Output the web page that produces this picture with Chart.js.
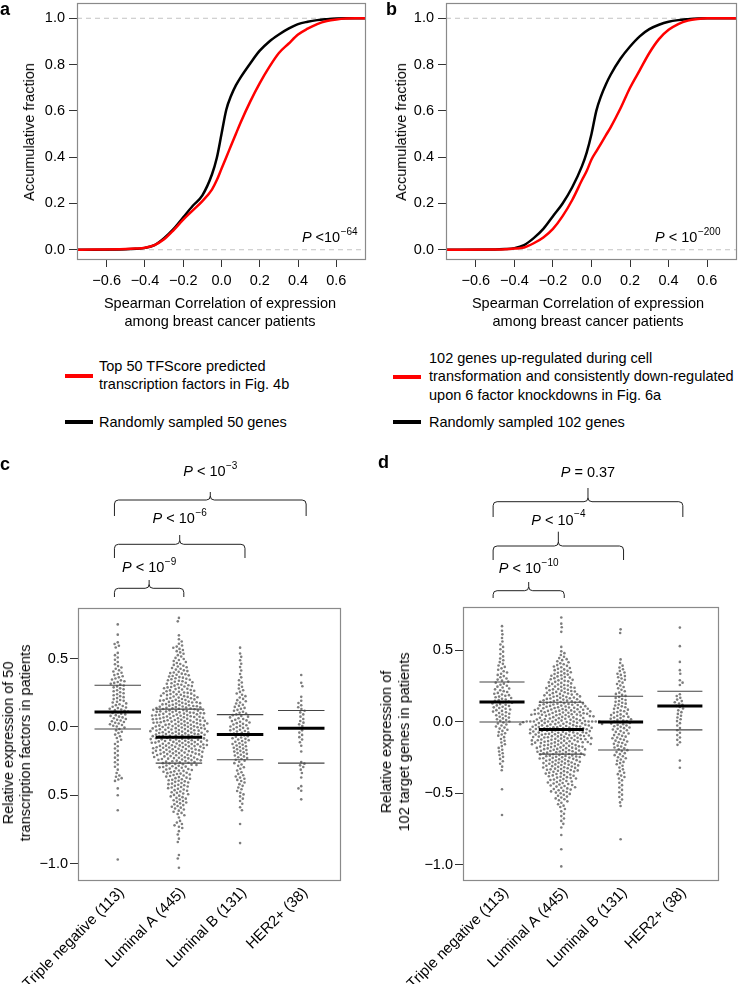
<!DOCTYPE html>
<html>
<head>
<meta charset="utf-8">
<script src="https://cdn.jsdelivr.net/npm/chart.js@4.4.1/dist/chart.umd.min.js"></script>
<style>
  body { margin: 0; background: #fff; }
  #page { position: relative; width: 738px; height: 984px; overflow: hidden; font-family: "Liberation Sans", Arial, sans-serif; color: #000; }
  canvas { position: absolute; }
  .t { position: absolute; font-size: 14.5px; white-space: nowrap; }
  .letter { position: absolute; font-weight: bold; font-size: 18px; line-height: 18px; }
  .rot { position: absolute; font-size: 14.5px; white-space: nowrap; text-align: center; transform: translate(-50%, -50%) rotate(-90deg); }
  .ctr { position: absolute; font-size: 14.5px; white-space: nowrap; text-align: center; transform: translateX(-50%); line-height: 18.3px; }
  .key { position: absolute; height: 4px; width: 28px; }
</style>
</head>
<body>
<div id="page">
  <canvas id="chartA" width="369" height="340" style="left:0;top:0"></canvas>
  <canvas id="chartB" width="369" height="340" style="left:369px;top:0"></canvas>
  <canvas id="chartC" width="369" height="534" style="left:0;top:450px"></canvas>
  <canvas id="chartD" width="369" height="534" style="left:369px;top:450px"></canvas>

  <div class="letter" style="left:0;top:0">a</div>
  <div class="letter" style="left:386px;top:0">b</div>
  <div class="letter" style="left:0;top:455px">c</div>
  <div class="letter" style="left:378px;top:453px">d</div>

  <div class="rot" style="left:29px;top:132px">Accumulative fraction</div>
  <div class="rot" style="left:401px;top:132px">Accumulative fraction</div>
  <div class="ctr" style="left:220px;top:294px">Spearman Correlation of expression<br>among breast cancer patients</div>
  <div class="ctr" style="left:588px;top:294px">Spearman Correlation of expression<br>among breast cancer patients</div>

  <div class="key" style="left:65px;top:374px;background:#ff0000"></div>
  <div class="t" style="left:99px;top:358px;line-height:17.6px">Top 50 TFScore predicted<br>transcription factors in Fig. 4b</div>
  <div class="key" style="left:65px;top:420px;background:#000"></div>
  <div class="t" style="left:99px;top:413px;line-height:18px">Randomly sampled 50 genes</div>

  <div class="key" style="left:393px;top:375px;background:#ff0000"></div>
  <div class="t" style="left:429px;top:349px;line-height:18.3px">102 genes up-regulated during cell<br>transformation and consistently down-regulated<br>upon 6 factor knockdowns in Fig. 6a</div>
  <div class="key" style="left:393px;top:420px;background:#000"></div>
  <div class="t" style="left:429px;top:413px;line-height:18px">Randomly sampled 102 genes</div>

  <div class="rot" style="left:17px;top:743px;line-height:17px">Relative expression of 50<br>transcription factors in patients</div>
  <div class="rot" style="left:395px;top:742px;line-height:18px">Relative expression of<br>102 target genes in patients</div>
</div>

<script>
// ---- panels a / b: cumulative fraction curves ----
const cdfX = [-0.75, -0.5, -0.45, -0.4, -0.35, -0.3, -0.25, -0.2, -0.15, -0.1, -0.05, -0.025, 0, 0.025, 0.05, 0.075,
              0.1, 0.15, 0.2, 0.25, 0.3, 0.35, 0.4, 0.45, 0.5, 0.55, 0.6, 0.65, 0.7, 0.75];
const aRed   = [0, .003, .005, .009, .02, .045, .085, .13, .17, .21, .26, .30, .35, .40, .45, .50,
                .55, .64, .72, .79, .85, .89, .93, .955, .975, .988, .995, .999, 1, 1];
const aBlack = [0, .002, .004, .008, .02, .05, .09, .14, .19, .235, .325, .395, .50, .605, .665, .71,
                .745, .805, .86, .90, .93, .955, .975, .985, .992, .996, .999, 1, 1, 1];
const bRed   = [0, .001, .002, .005, .01, .028, .053, .09, .145, .215, .30, .34, .39, .425, .46, .495,
                .53, .61, .70, .775, .85, .91, .95, .975, .99, .997, 1, 1, 1, 1];
const bBlack = [0, .001, .003, .007, .02, .05, .09, .145, .2, .27, .36, .42, .50, .60, .665, .715,
                .757, .825, .878, .922, .953, .972, .985, .992, .996, .999, 1, 1, 1, 1];
const cdfXTicks = [-0.6, -0.4, -0.2, 0, 0.2, 0.4, 0.6];
const cdfXLabels = ['\u22120.6', '\u22120.4', '\u22120.2', '0.0', '0.2', '0.4', '0.6'];
const cdfYTicks = [0, 0.2, 0.4, 0.6, 0.8, 1.0];
const cdfYLabels = ['0.0', '0.2', '0.4', '0.6', '0.8', '1.0'];
const aPText = ['P', ' <10', '\u221264'];
const bPText = ['P', ' < 10', '\u2212200'];

// ---- panels c / d: per-patient values, binned as [value, count, binWidth?] ----
const groups = ['Triple negative (113)', 'Luminal A (445)', 'Luminal B (131)', 'HER2+ (38)'];

const cTN = [[0.75,1],[0.675,1],[0.60,4],[0.525,3],[0.475,3],[0.425,5],[0.375,6],[0.325,8],[0.275,7],[0.225,7],
  [0.175,8],[0.125,10],[0.075,9],[0.025,9],[-0.025,5],[-0.075,4],[-0.125,3],[-0.175,3],[-0.225,3],[-0.275,3],
  [-0.325,2],[-0.375,5],[-0.45,1],[-0.50,1],[-0.61,1],[-0.97,1]];
const cLumA = [[0.785,2],[0.67,1],[0.625,3],[0.575,6],[0.525,5],[0.475,7],[0.425,9],[0.375,12],[0.325,14],[0.275,16],
  [0.225,19],[0.175,22],[0.125,27],[0.075,28],[0.025,29],[-0.025,30],[-0.075,30],[-0.125,29],[-0.175,27],[-0.225,24],
  [-0.275,18],[-0.325,15],[-0.375,13],[-0.425,12],[-0.475,10],[-0.525,9],[-0.575,8],[-0.625,6],[-0.675,2],[-0.72,5],
  [-0.775,2],[-0.83,2],[-0.95,2],[-1.03,1]];
const cLumB = [[0.58,1],[0.525,2],[0.475,2],[0.425,2],[0.375,2],[0.325,3],[0.275,4],[0.225,5],[0.175,6],[0.125,7],
  [0.075,9],[0.025,10],[-0.025,11],[-0.075,10],[-0.125,9],[-0.175,9],[-0.225,8],[-0.275,5],[-0.325,4],[-0.375,6],
  [-0.425,4],[-0.475,4],[-0.525,3],[-0.575,2],[-0.61,1],[-0.71,1],[-0.85,1]];
const cHER2 = [[0.38,1],[0.31,2],[0.22,1],[0.175,3],[0.125,4],[0.075,3],[0.025,4],[-0.025,3],[-0.075,3],[-0.125,2],
  [-0.18,1],[-0.275,4],[-0.325,2],[-0.37,1],[-0.45,3],[-0.53,1]];
const cMedian = [0.11, -0.075, -0.055, -0.01];
const cUpper  = [0.305, 0.13, 0.09, 0.12];
const cLower  = [-0.015, -0.265, -0.24, -0.265];
const cYTicks = [0.5, 0, -0.5, -1.0];
const cYLabels = ['0.5', '0.0', '0.5', '\u22121.0'];
const cPairs = [[1, 2], [1, 3], [1, 4]];
const cPTexts = [['P', ' < 10', '\u22129'], ['P', ' < 10', '\u22126'], ['P', ' < 10', '\u22123']];

const dTN = [[0.67,1],[0.625,2],[0.575,2],[0.525,3],[0.475,3],[0.425,4],[0.375,5],[0.325,6],[0.275,7],[0.225,8],
  [0.175,10],[0.125,11],[0.075,10],[0.025,9],[-0.025,7],[-0.075,6],[-0.125,4],[-0.175,4],[-0.225,4],[-0.275,3],
  [-0.325,2],[-0.47,1],[-0.65,1]];
const dLumA = [[0.73,1],[0.675,2],[0.63,1],[0.525,1],[0.475,4],[0.425,7],[0.375,10],[0.325,12],[0.275,14],[0.225,17],
  [0.175,20],[0.125,26],[0.075,30],[0.03,27],[0.003,10,0],[-0.025,35],[-0.075,34],[-0.125,32],[-0.175,28],[-0.225,26],
  [-0.275,22],[-0.325,20],[-0.375,16],[-0.425,14],[-0.475,12],[-0.525,8],[-0.575,5],[-0.625,3],[-0.675,3],[-0.725,2],
  [-0.79,1],[-0.89,1],[-1.01,1]];
const dLumB = [[0.635,2],[0.425,2],[0.375,4],[0.325,6],[0.275,5],[0.225,5],[0.175,7],[0.125,8],[0.075,9],[0.025,12],
  [-0.025,11],[-0.075,9],[-0.125,9],[-0.175,8],[-0.225,7],[-0.275,6],[-0.325,4],[-0.375,5],[-0.425,3],[-0.475,3],
  [-0.525,3],[-0.575,2],[-0.82,1]];
const dHER2 = [[0.66,1],[0.53,1],[0.42,1],[0.35,2],[0.275,3],[0.175,4],[0.125,6],[0.075,4],[0.025,4],[-0.025,3],
  [-0.075,3],[-0.125,3],[-0.16,1],[-0.27,1],[-0.32,1]];
const dMedian = [0.14, -0.053, 0.0, 0.112];
const dUpper  = [0.28, 0.138, 0.18, 0.215];
const dLower  = [0.0, -0.225, -0.196, -0.055];
const dYTicks = [0.5, 0, -0.5, -1.0];
const dYLabels = ['0.5', '0.0', '\u22120.5', '\u22121.0'];
const dPairs = [[1, 2], [1, 3], [1, 4]];
const dPTexts = [['P', ' < 10', '\u221210'], ['P', ' < 10', '\u22124'], ['P', ' = 0.37', '']];

// ---- shared style ----
const FONT = '"Liberation Sans", Arial, sans-serif';
Chart.defaults.font.family = FONT;
Chart.defaults.font.size = 14.5;
Chart.defaults.color = '#000';
Chart.defaults.animation = false;

const framePlugin = {
  id: 'frame',
  afterDatasetsDraw(chart) {
    const { ctx, chartArea: a } = chart;
    ctx.save();
    ctx.strokeStyle = '#8a8a8a';
    ctx.lineWidth = 1.2;
    ctx.strokeRect(Math.round(a.left) + 0.5, Math.round(a.top) + 0.5,
                   Math.round(a.right - a.left) - 1, Math.round(a.bottom - a.top));
    ctx.restore();
  }
};

function drawP(ctx, x, y, parts, center) {
  const fi = 'italic 14.5px ' + FONT, fn = '14.5px ' + FONT, fs = '10px ' + FONT;
  ctx.font = fi; const w1 = ctx.measureText(parts[0]).width;
  ctx.font = fn; const w2 = ctx.measureText(parts[1]).width;
  ctx.font = fs; const w3 = parts[2] ? ctx.measureText(parts[2]).width + 0.5 : 0;
  const x0 = center ? x - (w1 + w2 + w3) / 2 : x;
  ctx.fillStyle = '#000';
  ctx.textAlign = 'left';
  ctx.textBaseline = 'middle';
  ctx.font = fi; ctx.fillText(parts[0], x0, y);
  ctx.font = fn; ctx.fillText(parts[1], x0 + w1, y);
  if (parts[2]) { ctx.font = fs; ctx.fillText(parts[2], x0 + w1 + w2 + 0.5, y - 6); }
}

function fixedTicks(values) {
  return scale => { scale.ticks = values.map(v => ({ value: v })); };
}

// pin axis sizes so the plot boxes land where the figure has them
function fitY(w) {
  return s => { s.width = w; s.paddingTop = 0; s.paddingBottom = 0; };
}
function fitX(h) {
  return s => { s.height = h; s.paddingLeft = 0; s.paddingRight = 0; };
}

// ---- cumulative charts ----
function makeCdf(id, red, black, pText, pX, padRight) {
  const xMin = -0.755, xMax = 0.755;
  const toPts = arr => cdfX.map((x, i) => ({ x: x, y: arr[i] }));
  new Chart(document.getElementById(id), {
    type: 'line',
    data: {
      datasets: [
        { data: toPts(red), borderColor: '#ff0000', borderWidth: 2.5, pointRadius: 0, cubicInterpolationMode: 'monotone', order: 0 },
        { data: toPts(black), borderColor: '#000', borderWidth: 2.5, pointRadius: 0, cubicInterpolationMode: 'monotone', order: 1 },
        { data: [{ x: xMin, y: 0 }, { x: xMax, y: 0 }], borderColor: '#c4c4c4', borderWidth: 1, borderDash: [5, 4], pointRadius: 0, order: 2 },
        { data: [{ x: xMin, y: 1 }, { x: xMax, y: 1 }], borderColor: '#c4c4c4', borderWidth: 1, borderDash: [5, 4], pointRadius: 0, order: 2 }
      ]
    },
    options: {
      responsive: false,
      layout: { padding: { top: 3, right: padRight, left: 0, bottom: 0 } },
      plugins: { legend: { display: false }, tooltip: { enabled: false } },
      scales: {
        x: {
          type: 'linear', min: xMin, max: xMax,
          afterBuildTicks: fixedTicks(cdfXTicks),
          afterFit: fitX(81),
          ticks: { callback: (v, i) => cdfXLabels[i], padding: 5, maxRotation: 0 },
          grid: { drawOnChartArea: false, tickLength: 8, tickColor: '#333' },
          border: { display: false }
        },
        y: {
          min: -0.04, max: 1.066,
          afterBuildTicks: fixedTicks(cdfYTicks),
          afterFit: fitY(77),
          ticks: { callback: (v, i) => cdfYLabels[i], padding: 4 },
          grid: { drawOnChartArea: false, tickLength: 8, tickColor: '#333' },
          border: { display: false }
        }
      }
    },
    plugins: [framePlugin, {
      id: 'pval',
      afterDraw(chart) {
        const { ctx, scales } = chart;
        ctx.save();
        drawP(ctx, scales.x.getPixelForValue(pX), scales.y.getPixelForValue(0.05), pText, false);
        ctx.restore();
      }
    }]
  });
}

makeCdf('chartA', aRed, aBlack, aPText, 0.42, 3);
makeCdf('chartB', bRed, bBlack, bPText, 0.33, 1);

// ---- beeswarm charts ----
function expand(bins) {
  const out = [];
  bins.forEach(([c, n, w]) => {
    const width = (w === undefined) ? 0.05 : w;
    for (let i = 0; i < n; i++) out.push(n === 1 ? c : c - width / 2 + width * (i + 0.5) / n);
  });
  return out;
}

// greedy swarm placement in pixel space
function swarm(ys, d) {
  const order = ys.map((v, i) => i).sort((a, b) => ys[a] - ys[b]);
  const placed = [];
  const xs = new Array(ys.length).fill(0);
  order.forEach((i, k) => {
    const y = ys[i];
    const near = placed.filter(p => Math.abs(p.y - y) < d);
    const cands = [0];
    near.forEach(p => {
      const dx = Math.sqrt(d * d - (p.y - y) * (p.y - y));
      cands.push(p.x + dx, p.x - dx);
    });
    cands.sort((a, b) => (Math.abs(a) - Math.abs(b)) || (k % 2 ? a - b : b - a));
    let best = 0;
    for (const c of cands) {
      if (near.every(p => (p.x - c) * (p.x - c) + (p.y - y) * (p.y - y) >= d * d - 1e-6)) { best = c; break; }
    }
    placed.push({ x: best, y: y });
    xs[i] = best;
  });
  return xs;
}

function segs(values, half) {
  const out = [];
  values.forEach((v, i) => {
    out.push({ x: i + 1 - half, y: v }, { x: i + 1 + half, y: v }, { x: i + 1 + half, y: null });
  });
  return out;
}

function makeSwarm(id, binSets, med, upper, lower, yTicks, yLabels, yMin, yMax, xMin, xMax, geo, pairs, pTexts) {
  const values = binSets.map(expand);
  const pts = [];
  values.forEach((vals, gi) => vals.forEach(v => pts.push({ x: gi + 1, y: v })));
  const half = 0.38;

  const chart = new Chart(document.getElementById(id), {
    type: 'scatter',
    data: {
      datasets: [
        { type: 'line', data: segs(med, half), borderColor: '#000', borderWidth: 3, pointRadius: 0, spanGaps: false, order: 0 },
        { type: 'line', data: segs(upper, half).concat(segs(lower, half)), borderColor: '#444', borderWidth: 1.1, pointRadius: 0, spanGaps: false, order: 1 },
        { data: pts, backgroundColor: '#7d7d7d', borderWidth: 0, pointRadius: 1.3, order: 2 }
      ]
    },
    options: {
      responsive: false,
      layout: { padding: { top: geo.top, right: geo.right, left: 0, bottom: 0 } },
      plugins: { legend: { display: false }, tooltip: { enabled: false } },
      scales: {
        x: {
          type: 'linear', min: xMin, max: xMax,
          afterBuildTicks: fixedTicks([1, 2, 3, 4]),
          afterFit: fitX(geo.xHeight),
          ticks: { callback: (v, i) => groups[i], minRotation: 45, maxRotation: 45, autoSkip: false,
                   padding: -4, labelOffset: 4, font: { size: 15 } },
          grid: { display: false },
          border: { display: false }
        },
        y: {
          min: yMin, max: yMax,
          afterBuildTicks: fixedTicks(yTicks),
          afterFit: fitY(geo.yWidth),
          ticks: { callback: (v, i) => yLabels[i], padding: 2 },
          grid: { drawOnChartArea: false, tickLength: 8, tickColor: '#333' },
          border: { display: false }
        }
      }
    },
    plugins: [framePlugin, {
      id: 'brackets',
      afterDraw(ch) {
        const { ctx, scales, chartArea } = ch;
        const top = chartArea.top;
        ctx.save();
        ctx.strokeStyle = '#222';
        ctx.lineWidth = 1;
        pairs.forEach((pr, k) => {
          const x1 = scales.x.getPixelForValue(pr[0] - geo.overL);
          const x2 = scales.x.getPixelForValue(pr[1] + geo.overR);
          const lineY = top - geo.lineOff[k], legY = top - geo.legOff[k], peakY = top - geo.peakOff[k];
          const mid = (x1 + x2) / 2, r = 4;
          ctx.beginPath();
          ctx.moveTo(x1, legY);
          ctx.lineTo(x1, lineY + r);
          ctx.quadraticCurveTo(x1, lineY, x1 + r, lineY);
          ctx.lineTo(mid - r, lineY);
          ctx.quadraticCurveTo(mid, lineY, mid, lineY - r);
          ctx.lineTo(mid, peakY);
          ctx.moveTo(mid, lineY - r);
          ctx.quadraticCurveTo(mid, lineY, mid + r, lineY);
          ctx.lineTo(x2 - r, lineY);
          ctx.quadraticCurveTo(x2, lineY, x2, lineY + r);
          ctx.lineTo(x2, legY);
          ctx.stroke();
          drawP(ctx, mid, top - geo.textOff[k], pTexts[k], true);
        });
        ctx.restore();
      }
    }]
  });

  // spread points sideways from the scales' pixel sizes
  const xs = chart.scales.x, ys = chart.scales.y;
  const pxPerX = xs.getPixelForValue(1) - xs.getPixelForValue(0);
  let idx = 0;
  values.forEach(vals => {
    const off = swarm(vals.map(v => ys.getPixelForValue(v)), geo.spacing);
    off.forEach(o => { pts[idx].x += o / pxPerX; idx++; });
  });
  chart.update('none');
}

makeSwarm('chartC', [cTN, cLumA, cLumB, cHER2], cMedian, cUpper, cLower, cYTicks, cYLabels, -1.12, 0.87, 0.35, 4.65,
  { top: 158, right: 28, xHeight: 104, yWidth: 78, spacing: 3.6, overL: 0.054, overR: 0.08,
    lineOff: [19.7, 63.7, 108], legOff: [11, 50, 92], peakOff: [28, 73, 116], textOff: [40, 89, 136] },
  cPairs, cPTexts);

makeSwarm('chartD', [dTN, dLumA, dLumB, dHER2], dMedian, dUpper, dLower, dYTicks, dYLabels, -1.105, 0.806, 0.342, 4.66,
  { top: 156.7, right: 19, xHeight: 104, yWidth: 94, spacing: 3.6, overL: 0.15, overR: 0.05,
    lineOff: [16, 60.7, 105], legOff: [8.7, 46.7, 89.7], peakOff: [24.7, 75, 118.7], textOff: [37.7, 86, 133.7] },
  dPairs, dPTexts);
</script>
</body>
</html>
